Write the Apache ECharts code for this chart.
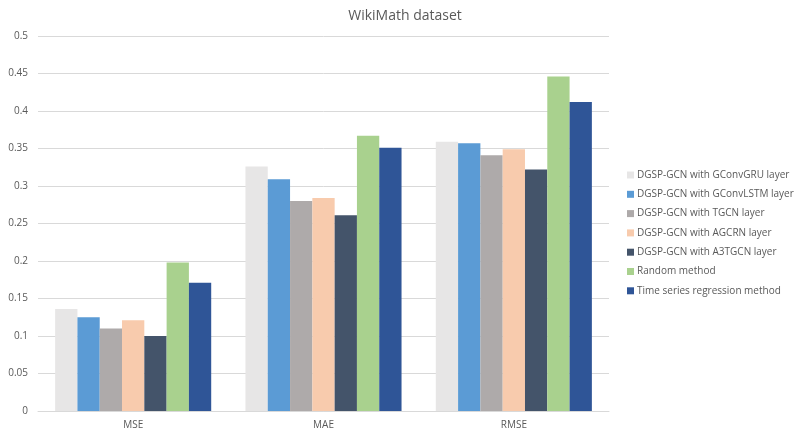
<!DOCTYPE html>
<html><head><meta charset="utf-8">
<script src="https://cdn.jsdelivr.net/npm/echarts@6/dist/echarts.min.js"></script>
<style>html,body{margin:0;padding:0;background:#fff}#c{width:795px;height:438px}</style>
</head><body><div id="c"></div>
<script>
const categories = ['MSE', 'MAE', 'RMSE'];
const seriesNames = [
  'DGSP-GCN with GConvGRU layer',
  'DGSP-GCN with GConvLSTM layer',
  'DGSP-GCN with TGCN layer',
  'DGSP-GCN with AGCRN layer',
  'DGSP-GCN with A3TGCN layer',
  'Random method',
  'Time series regression method'
];
const gconvgru = [0.136, 0.326, 0.359];
const gconvlstm = [0.125, 0.309, 0.357];
const tgcn = [0.110, 0.280, 0.341];
const agcrn = [0.121, 0.284, 0.349];
const a3tgcn = [0.100, 0.261, 0.322];
const randomMethod = [0.198, 0.367, 0.446];
const tsRegression = [0.171, 0.351, 0.412];
const yTicks = [0, 0.05, 0.1, 0.15, 0.2, 0.25, 0.3, 0.35, 0.4, 0.45, 0.5];

const allValues = [gconvgru, gconvlstm, tgcn, agcrn, a3tgcn, randomMethod, tsRegression];
const colors = ['#E7E6E6', '#5B9BD5', '#AEAAAA', '#F8CBAD', '#44546A', '#A9D18E', '#2F5597'];
const font = '"Open Sans", "Noto Sans", sans-serif';

const chart = echarts.init(document.getElementById('c'), null, {renderer: 'canvas'});
chart.setOption({
  animation: false,
  backgroundColor: '#fff',
  title: {
    text: 'WikiMath dataset', left: 400, top: 4, textAlign: 'center',
    textStyle: {fontFamily: font, fontSize: 14, fontWeight: 'normal', color: '#595959'}
  },
  legend: {
    orient: 'vertical', left: 622, top: 165,
    itemWidth: 7, itemHeight: 7, itemGap: 9.3,
    icon: 'rect',
    textStyle: {fontFamily: font, fontSize: 10, color: '#595959', padding: [0,0,0,-2]},
    data: seriesNames
  },
  grid: {left: 38, top: 36, width: 571, height: 375, containLabel: false},
  xAxis: {
    type: 'category', data: categories,
    axisLine: {lineStyle: {color: '#D9D9D9'}},
    axisTick: {show: false},
    axisLabel: {fontFamily: font, fontSize: 10, color: '#595959', margin: 9}
  },
  yAxis: {
    type: 'value', min: 0, max: 0.5, interval: 0.05,
    axisLine: {show: false}, axisTick: {show: false},
    splitLine: {lineStyle: {color: '#D9D9D9'}},
    axisLabel: {fontFamily: font, fontSize: 10, color: '#595959', margin: 10,
      formatter: v => { const t = yTicks.find(x => Math.abs(x - v) < 1e-9); return String(t !== undefined ? t : v); }}
  },
  series: seriesNames.map((n, i) => ({
    name: n, type: 'bar', data: allValues[i],
    barCategoryGap: '18%', barGap: '0%',
    itemStyle: {color: colors[i]}
  }))
});
</script></body></html>
